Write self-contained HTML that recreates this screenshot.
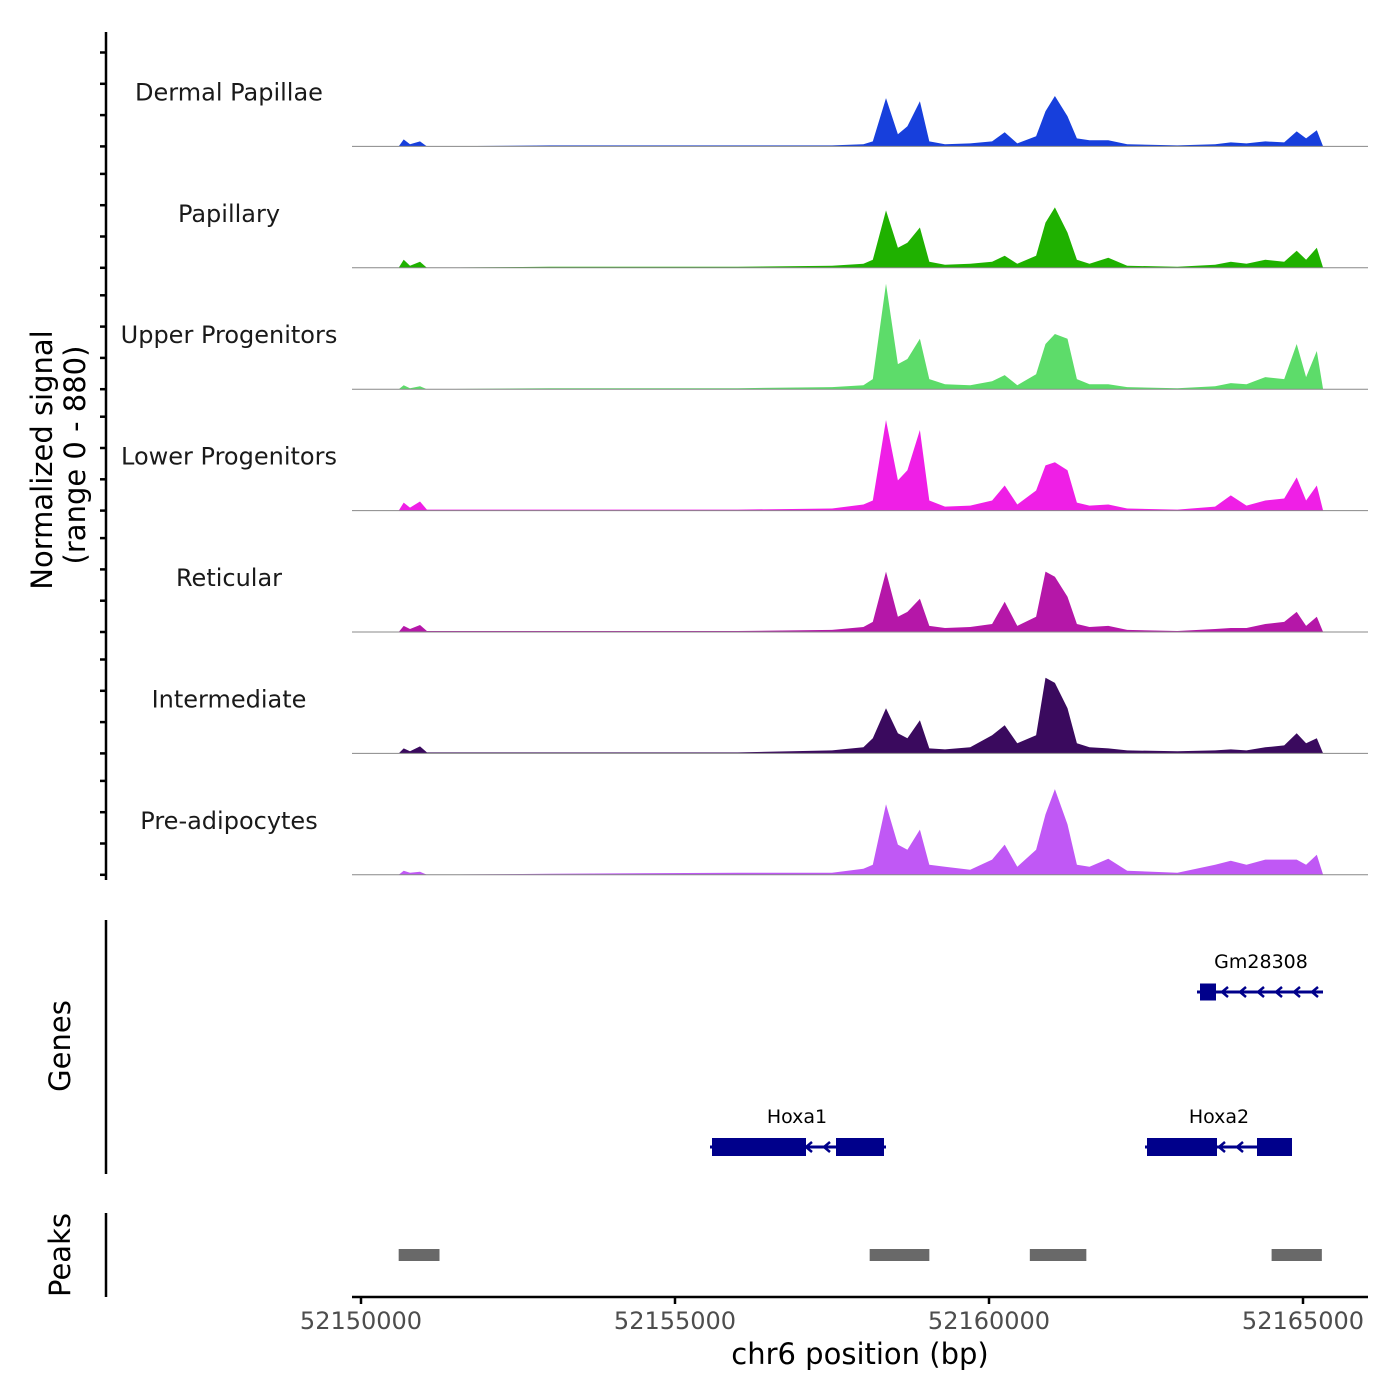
<!DOCTYPE html>
<html><head><meta charset="utf-8"><style>
html,body{margin:0;padding:0;background:#fff;}
svg{display:block;font-family:"DejaVu Sans","Liberation Sans",sans-serif;}
</style></head><body>
<svg id="chart" width="1400" height="1400" viewBox="0 0 1400 1400" xmlns="http://www.w3.org/2000/svg">
<g id="tracks"></g>
<g id="yaxis"></g>
<text transform="translate(52,460) rotate(-90)" text-anchor="middle" font-size="29" fill="#000">Normalized signal</text>
<text transform="translate(85,455) rotate(-90)" text-anchor="middle" font-size="29" fill="#000">(range 0 - 880)</text>
<line x1="106" y1="920" x2="106" y2="1174" stroke="#000" stroke-width="2.5"/>
<text transform="translate(70,1046) rotate(-90)" text-anchor="middle" font-size="29">Genes</text>
<line x1="106" y1="1213" x2="106" y2="1297" stroke="#000" stroke-width="2.5"/>
<text transform="translate(70,1255) rotate(-90)" text-anchor="middle" font-size="29">Peaks</text>
<g id="genes"></g>
<g id="peaks"></g>
<g id="xaxis"></g>
<text x="860" y="1364" text-anchor="middle" font-size="29">chr6 position (bp)</text>
</svg>
<script>
const NS="http://www.w3.org/2000/svg";
const START=52150000;
const positions=[600,680,780,940,1050,3000,6000,7500,8000,8150,8360,8550,8700,8900,9050,9300,9700,10050,10250,10450,10750,10900,11050,11250,11400,11600,11900,12200,13000,13600,13850,14100,14400,14700,14900,15050,15220,15320];
const trackNames=["Dermal Papillae","Papillary","Upper Progenitors","Lower Progenitors","Reticular","Intermediate","Pre-adipocytes"];
const dermal=[0,51,15,36,0,7,7,7,15,36,350,88,146,328,36,15,22,36,102,22,73,255,365,219,58,44,44,15,7,15,29,22,36,29,109,58,117,0];
const papillary=[0,58,15,44,0,7,7,15,29,58,416,146,182,292,44,22,29,44,88,29,88,328,438,255,58,29,73,15,7,22,44,29,58,44,124,58,146,0];
const upper=[0,29,7,22,0,7,7,15,29,73,765,182,219,365,73,36,29,58,102,29,109,328,400,365,73,36,36,15,7,22,44,36,88,73,328,88,277,0];
const lower=[0,58,22,66,7,7,7,15,44,73,657,219,292,584,73,29,36,73,182,44,146,328,350,292,58,36,44,15,7,29,110,36,73,88,241,73,182,0];
const reticular=[0,44,22,51,7,7,7,15,36,73,438,110,146,241,44,29,36,58,219,44,110,438,400,255,58,36,44,15,7,22,29,29,58,73,146,44,110,0];
const intermediate=[0,36,15,51,7,7,7,22,44,110,328,146,110,241,36,29,44,131,204,73,131,548,511,328,73,44,36,22,15,22,29,22,44,58,146,73,110,0];
const preadipo=[0,29,15,22,0,7,15,15,44,73,511,219,182,328,73,58,36,110,219,58,182,438,621,365,73,58,117,29,15,73,102,73,110,110,110,73,146,0];
const xTicks=[52150000,52155000,52160000,52165000];
const peakStarts=[52150600,52158100,52160650,52164500];
const peakEnds=[52151250,52159050,52161550,52165300];
const series=[dermal,papillary,upper,lower,reticular,intermediate,preadipo];
const colors=["#173fdc","#1fb100","#5ddc6a","#ef1fe6","#b517a8","#3a0a5e","#c058f5"];
const MAXV=880, TH=121.4, TOP=25;
function xs(bp){return 361+(bp-START)*0.06280;}
function baseY(i){return TOP+TH*(i+1);}
function ys(v,i){return baseY(i)-v/MAXV*TH;}
function mk(tag,attrs,parent){const e=document.createElementNS(NS,tag);for(const k in attrs)e.setAttribute(k,attrs[k]);parent.appendChild(e);return e;}
const tg=document.getElementById('tracks');
series.forEach((vals,i)=>{
  let d="M"+xs(START+positions[0])+","+baseY(i);
  vals.forEach((v,j)=>{d+=" L"+xs(START+positions[j]).toFixed(1)+","+ys(v,i).toFixed(1);});
  d+=" L"+xs(START+positions[positions.length-1])+","+baseY(i)+"Z";
  const a=mk('path',{d:d,fill:colors[i]},tg);
  
  
  const l=mk('line',{x1:352,x2:1368,y1:baseY(i),y2:baseY(i),stroke:'#888','stroke-width':1},tg);
  
  
  const t=mk('text',{x:229,y:baseY(i)-46,'text-anchor':'middle','font-size':24,fill:'#1a1a1a'},tg);
  t.textContent=trackNames[i];
  
  
});
const ya=document.getElementById('yaxis');
mk('line',{x1:106,x2:106,y1:32,y2:880,stroke:'#000','stroke-width':2.5},ya);
for(let i=0;i<7;i++){for(let k=0;k<4;k++){const y=baseY(i)-k*31.3;mk('line',{x1:100,x2:106,y1:y,y2:y,stroke:'#000','stroke-width':2.5},ya);}}
const gg=document.getElementById('genes');
function gene(name,y,exons,lineS,lineE,arrows,labelX){
  const g=mk('g',{},gg);
  
  
  mk('line',{x1:lineS,x2:lineE,y1:y,y2:y,stroke:'#00008b','stroke-width':3},g);
  exons.forEach(e=>mk('rect',{x:e[0],y:y-(e[2]/2),width:e[1]-e[0],height:e[2],fill:'#00008b'},g));
  arrows.forEach(ax=>mk('polyline',{points:(ax+6)+","+(y-5)+" "+ax+","+y+" "+(ax+6)+","+(y+5),fill:'none',stroke:'#00008b','stroke-width':2.5},g));
  const t=mk('text',{x:labelX,y:y-24,'text-anchor':'middle','font-size':19,fill:'#000'},g);t.textContent=name;
}
gene('Gm28308',992,[[1200,1216,17]],1197,1323,[1222,1240,1258,1276,1294,1312],1261);
gene('Hoxa1',1147,[[712,806,18],[836,884,18]],710,886,[806,824],797);
gene('Hoxa2',1147,[[1147,1217,18],[1257,1292,18]],1145,1292,[1219,1237],1219);
const pg=document.getElementById('peaks');
peakStarts.forEach((s,i)=>{const r=mk('rect',{x:xs(s),y:1249,width:xs(peakEnds[i])-xs(s),height:12,fill:'#696969'},pg);
  
  });
const xa=document.getElementById('xaxis');
mk('line',{x1:352,x2:1368,y1:1297,y2:1297,stroke:'#000','stroke-width':2.5},xa);
xTicks.forEach(t=>{mk('line',{x1:xs(t),x2:xs(t),y1:1297,y2:1304,stroke:'#000','stroke-width':2.5},xa);
  const tx=mk('text',{x:xs(t),y:1329,'text-anchor':'middle','font-size':24,fill:'#4d4d4d'},xa);tx.textContent=t;
  
  });
</script>
</body></html>
